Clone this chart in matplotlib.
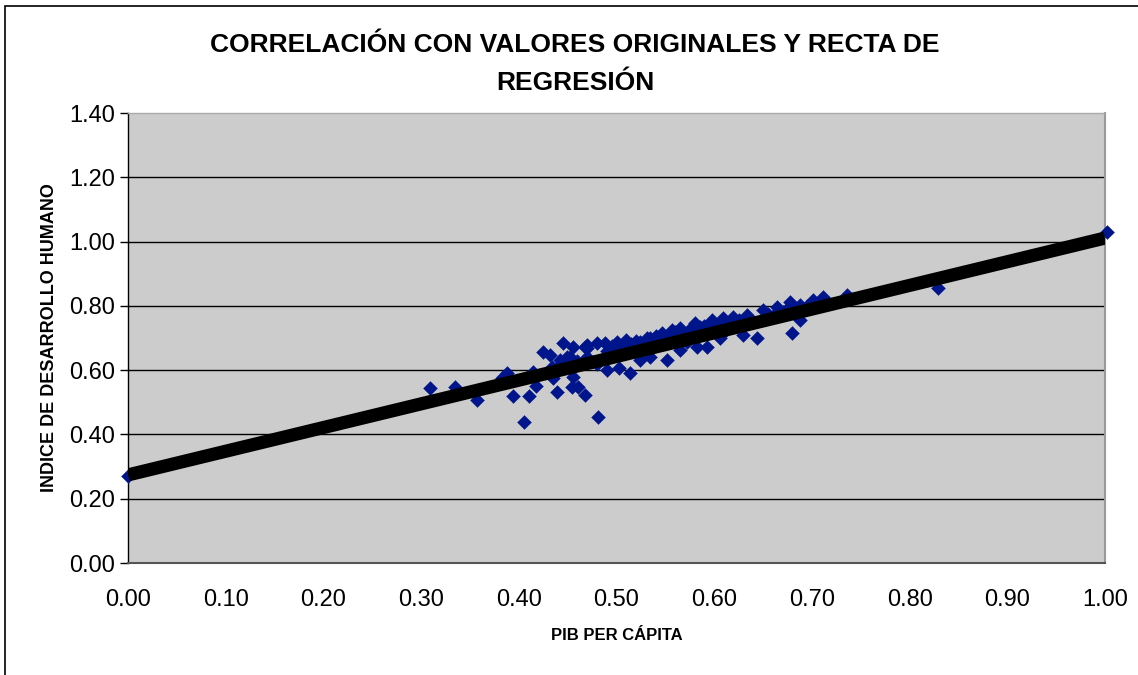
import matplotlib
matplotlib.use("Agg")
import matplotlib.pyplot as plt
from matplotlib.patches import Rectangle

plt.rcParams['font.family'] = ['Liberation Sans', 'DejaVu Sans']

# Data
pib = [0.00,
       0.309, 0.335, 0.357, 0.383, 0.388, 0.394, 0.410, 0.405, 0.415, 0.418,
       0.425, 0.432, 0.434, 0.435, 0.439, 0.439, 0.442, 0.445, 0.449, 0.452,
       0.454, 0.455, 0.455, 0.461, 0.468, 0.468, 0.470, 0.470, 0.480, 0.481,
       0.488, 0.490, 0.500, 0.503, 0.510, 0.514, 0.524, 0.524, 0.531, 0.534,
       0.534, 0.547, 0.552, 0.557, 0.565, 0.565, 0.572, 0.580, 0.582, 0.593,
       0.598, 0.606, 0.609, 0.619, 0.629, 0.634, 0.644, 0.650, 0.664, 0.678,
       0.680, 0.688, 0.688, 0.701, 0.711, 0.736, 0.829, 1.002,
       0.460, 0.470, 0.480, 0.490, 0.500, 0.510, 0.520, 0.530, 0.540, 0.550,
       0.560, 0.570, 0.580, 0.590, 0.600, 0.610, 0.620, 0.630, 0.640, 0.650,
       0.660, 0.670, 0.680, 0.690, 0.700, 0.545, 0.555, 0.575, 0.585, 0.595,
       0.615, 0.625, 0.655, 0.675, 0.695, 0.515, 0.505, 0.495,
       0.520, 0.540, 0.560, 0.575, 0.590, 0.605]
idh = [0.270,
       0.545, 0.548, 0.507, 0.576, 0.591, 0.520, 0.520, 0.439, 0.594, 0.551,
       0.657, 0.647, 0.610, 0.576, 0.532, 0.607, 0.632, 0.684, 0.641, 0.641,
       0.548, 0.672, 0.579, 0.548, 0.523, 0.672, 0.669, 0.678, 0.684, 0.454,
       0.684, 0.600, 0.688, 0.607, 0.694, 0.591, 0.632, 0.688, 0.700, 0.641,
       0.700, 0.716, 0.632, 0.725, 0.663, 0.731, 0.688, 0.747, 0.672, 0.672,
       0.756, 0.700, 0.762, 0.765, 0.709, 0.772, 0.700, 0.787, 0.797, 0.812,
       0.716, 0.756, 0.803, 0.818, 0.828, 0.834, 0.856, 1.030,
       0.630, 0.640, 0.620, 0.660, 0.650, 0.660, 0.670, 0.660, 0.680, 0.690,
       0.700, 0.710, 0.700, 0.720, 0.730, 0.720, 0.740, 0.750, 0.750, 0.760,
       0.770, 0.780, 0.780, 0.790, 0.800, 0.705, 0.715, 0.725, 0.735, 0.740,
       0.750, 0.755, 0.775, 0.790, 0.800, 0.680, 0.670, 0.675,
       0.692, 0.705, 0.718, 0.728, 0.738, 0.748]

# Regression line end points
line_x = [0.0, 1.0]
line_y = [0.274, 1.011]

x_ticks = [0.0, 0.1, 0.2, 0.3, 0.4, 0.5, 0.6, 0.7, 0.8, 0.9, 1.0]
y_ticks = [0.0, 0.2, 0.4, 0.6, 0.8, 1.0, 1.2, 1.4]

title_lines = ["CORRELACIÓN CON VALORES ORIGINALES Y RECTA DE", "REGRESIÓN"]
xlabel = "PIB PER CÁPITA"
ylabel = "INDICE DE DESARROLLO HUMANO"

fig = plt.figure(figsize=(11.38, 6.75), dpi=100)
fig.patch.set_facecolor('white')

# outer chart border (only left and top visible)
fig.add_artist(Rectangle((5 / 1138, -0.5), 2.0, 0.5 + 669 / 675,
                         transform=fig.transFigure, fill=False,
                         edgecolor='black', linewidth=1.2, clip_on=False))

ax = fig.add_axes([128 / 1138, 112 / 675, 977 / 1138, 450 / 675])
ax.set_facecolor('#CCCCCC')
ax.set_xlim(0, 1.0)
ax.set_ylim(0, 1.4)

for yv in y_ticks[1:-1]:
    ax.axhline(yv, color='black', linewidth=1.0, zorder=1)

ax.scatter(pib, idh, marker='D', s=50, color='#00158C', edgecolors='#00158C',
           linewidths=0.3, zorder=3, clip_on=False)
ax.plot(line_x, line_y, color='black', linewidth=9.5, solid_capstyle='butt',
        zorder=4)

ax.set_xticks(x_ticks)
ax.set_yticks(y_ticks)
ax.set_xticklabels([f"{v:.2f}" for v in x_ticks])
ax.set_yticklabels([f"{v:.2f}" for v in y_ticks])
ax.tick_params(axis='y', direction='out', length=6, width=1, labelsize=17,
               pad=3, color='black')
ax.tick_params(axis='x', length=0, labelsize=17, pad=19)

ax.spines['left'].set_color('black')
ax.spines['left'].set_linewidth(1.0)
ax.spines['bottom'].set_color('#555555')
ax.spines['bottom'].set_linewidth(1.5)
ax.spines['right'].set_color('#999999')
ax.spines['right'].set_linewidth(1.5)
ax.spines['top'].set_color('#AAAAAA')
ax.spines['top'].set_linewidth(1.0)

ax.set_xlabel(xlabel, fontsize=12, fontweight='bold', labelpad=12)
ax.set_ylabel(ylabel, fontsize=13, fontweight='bold', labelpad=8)

fig.text(575 / 1138, 1 - 45 / 675, title_lines[0], ha='center', va='center',
         fontsize=19, fontweight='bold')
fig.text(575 / 1138, 1 - 83 / 675, title_lines[1], ha='center', va='center',
         fontsize=19, fontweight='bold')

fig.savefig("out.png", dpi=100)
